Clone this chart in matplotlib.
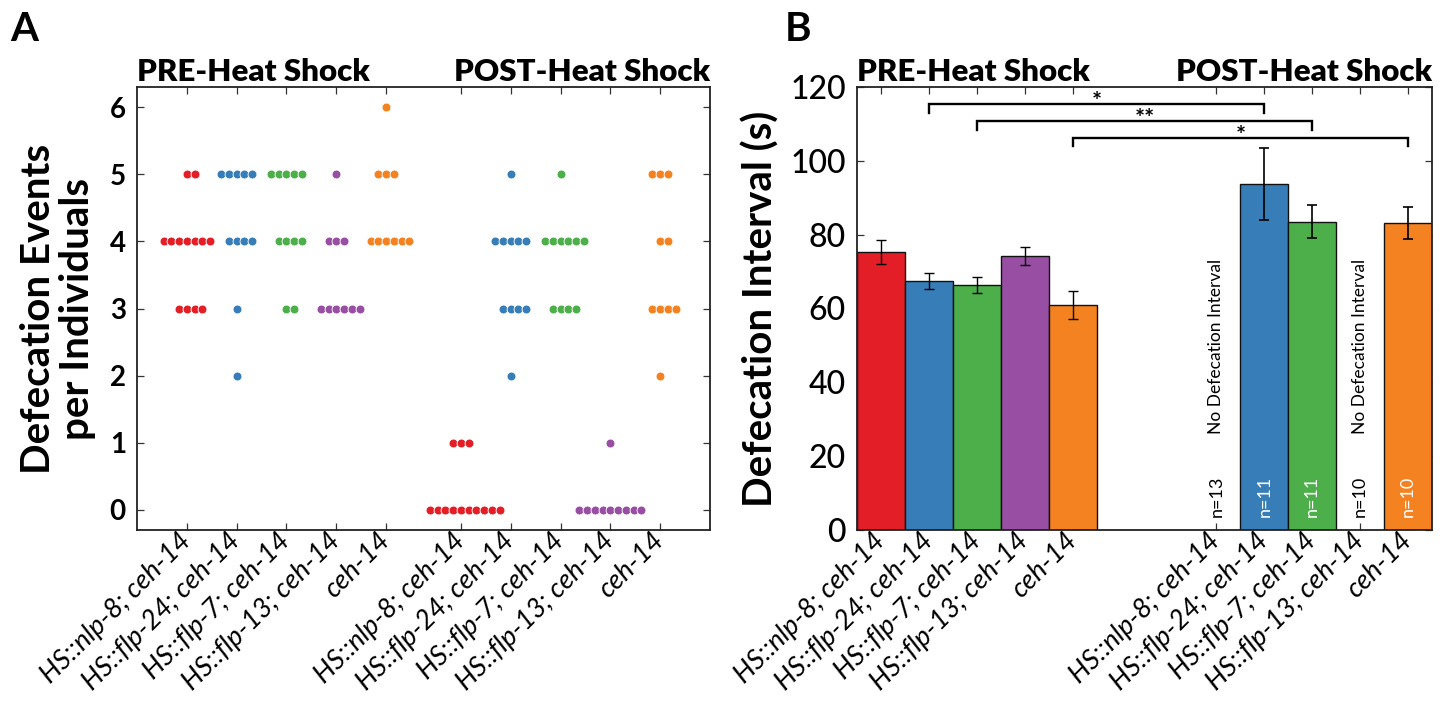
import matplotlib
matplotlib.use('Agg')
import matplotlib.pyplot as plt
import numpy as np

plt.rcParams['font.family'] = ['Lato', 'DejaVu Sans']

# ---------------- data ----------------
strains = ['HS::nlp-8; ceh-14', 'HS::flp-24; ceh-14', 'HS::flp-7; ceh-14',
           'HS::flp-13; ceh-14', 'ceh-14']
colors = ['#e41e26', '#377eb8', '#4daf4a', '#984ea3', '#f58220']

# Panel A: defecation events per individual
pre_nlp8 = [5, 5, 4, 4, 4, 4, 4, 4, 4, 3, 3, 3, 3]
pre_flp24 = [5, 5, 5, 5, 5, 4, 4, 4, 4, 3, 2]
pre_flp7 = [5, 5, 5, 5, 5, 4, 4, 4, 4, 3, 3]
pre_flp13 = [5, 4, 4, 4, 3, 3, 3, 3, 3, 3]
pre_ceh14 = [6, 5, 5, 5, 4, 4, 4, 4, 4, 4]
post_nlp8 = [1, 1, 1, 0, 0, 0, 0, 0, 0, 0, 0, 0, 0]
post_flp24 = [5, 4, 4, 4, 4, 4, 3, 3, 3, 3, 2]
post_flp7 = [5, 4, 4, 4, 4, 4, 4, 3, 3, 3, 3]
post_flp13 = [1, 0, 0, 0, 0, 0, 0, 0, 0, 0]
post_ceh14 = [5, 5, 5, 4, 4, 3, 3, 3, 3, 2]

# Panel B: defecation interval (s)
pre_mean = [75.3, 67.5, 66.4, 74.2, 61.0]
pre_err = [3.3, 2.2, 2.1, 2.35, 3.8]
post_mean = [np.nan, 93.7, 83.5, np.nan, 83.2]
post_err = [np.nan, 9.8, 4.5, np.nan, 4.3]
post_n = [13, 11, 11, 10, 10]

# significance brackets: (pre index, post index, label)
sig_pairs = [(1, 1, '*'), (2, 2, '**'), (4, 4, '*')]
sig_heights = [115.3, 110.8, 106.3]

# ---------------- figure ----------------
W, H = 1447, 704
fig = plt.figure(figsize=(W / 100, H / 100), dpi=100)
axA = fig.add_axes([137 / W, 1 - 530 / H, 573 / W, 443 / H])
axB = fig.add_axes([857 / W, 1 - 530 / H, 575 / W, 443 / H])

for ax in (axA, axB):
    for s in ax.spines.values():
        s.set_linewidth(1.3)
        s.set_color('#222222')
    ax.tick_params(direction='in', top=True, right=True, length=5, width=0.9,
                   color='#333333')

tick_font = dict(fontsize=19.5, fontstyle='italic', fontweight='normal',
                 color='black')

# ---- Panel A ----
posA_pre = [1, 2, 3, 4, 5]
posA_post = [6.5, 7.5, 8.5, 9.5, 10.5]
groupsA = [pre_nlp8, pre_flp24, pre_flp7, pre_flp13, pre_ceh14,
           post_nlp8, post_flp24, post_flp7, post_flp13, post_ceh14]
posA = posA_pre + posA_post
colA = colors + colors
spacing = 0.156
for vals, p, c in zip(groupsA, posA, colA):
    vals = np.array(vals)
    for v in np.unique(vals):
        n = int((vals == v).sum())
        start = -((n - 1) // 2)
        xs = p + spacing * np.arange(start, start + n)
        axA.plot(xs, [v] * n, 'o', ms=6.4, color=c, mec='white', mew=0.6,
                 linestyle='none', zorder=3)

axA.set_xlim(0, 11.5)
axA.set_ylim(-0.3, 6.3)
axA.set_yticks(range(0, 7))
axA.set_xticks(posA)
axA.set_xticklabels(strains + strains, rotation=45, ha='right', va='center',
                    rotation_mode='anchor', **tick_font)
axA.tick_params(axis='x', pad=5)
axA.tick_params(axis='y', labelsize=20, pad=8)
for t in axA.get_yticklabels():
    t.set_fontweight('bold')
axA.set_ylabel('Defecation Events\nper Individuals', fontsize=29,
               fontweight='bold', labelpad=10, linespacing=1.05)
axA.text(0.0, 1.014, 'PRE-Heat Shock', transform=axA.transAxes, ha='left',
         va='baseline', fontsize=22.5, fontweight='heavy')
axA.text(1.0, 1.014, 'POST-Heat Shock', transform=axA.transAxes, ha='right',
         va='baseline', fontsize=22.5, fontweight='heavy')

# ---- Panel B ----
posB_pre = [1, 2, 3, 4, 5]
posB_post = [8, 9, 10, 11, 12]
axB.bar(posB_pre, pre_mean, width=1.0, color=colors, edgecolor='#111111',
        linewidth=1.0, zorder=2)
axB.errorbar(posB_pre, pre_mean, yerr=pre_err, fmt='none', ecolor='black',
             elinewidth=1.0, capsize=3.5, capthick=1.0, zorder=3)
axB.bar(posB_post, post_mean, width=1.0, color=colors, edgecolor='#111111',
        linewidth=1.0, zorder=2)
axB.errorbar(posB_post, post_mean, yerr=post_err, fmt='none', ecolor='black',
             elinewidth=1.2, capsize=3.5, capthick=1.2, zorder=3)

for p, m, n in zip(posB_post, post_mean, post_n):
    if np.isnan(m):
        axB.text(p, 26, 'No Defecation Interval', rotation=90, ha='center',
                 va='bottom', fontsize=12.5, color='black')
        axB.text(p, 3.5, f'n={n}', rotation=90, ha='center', va='bottom',
                 fontsize=13, color='black')
    else:
        axB.text(p, 3.5, f'n={n}', rotation=90, ha='center', va='bottom',
                 fontsize=13, color='white')

for (i, j, lab), h in zip(sig_pairs, sig_heights):
    x1, x2 = posB_pre[i], posB_post[j]
    axB.plot([x1, x1, x2, x2], [h - 2.4, h, h, h - 2.4], color='black',
             lw=1.7, solid_joinstyle='miter', zorder=4)
    axB.text((x1 + x2) / 2, h + 0.4, lab, ha='center', va='center',
             fontsize=17, fontweight='bold')

axB.set_xlim(0.5, 12.5)
axB.set_ylim(0, 120)
axB.set_yticks(range(0, 121, 20))
axB.set_xticks(posB_pre + posB_post)
axB.set_xticklabels(strains + strains, rotation=45, ha='right', va='center',
                    rotation_mode='anchor', **tick_font)
axB.tick_params(axis='x', pad=5)
axB.tick_params(axis='y', labelsize=23, pad=8)
for t in axB.get_yticklabels():
    t.set_fontweight('medium')
axB.set_ylabel('Defecation Interval (s)', fontsize=29, fontweight='bold',
               labelpad=8)
axB.text(0.0, 1.014, 'PRE-Heat Shock', transform=axB.transAxes, ha='left',
         va='baseline', fontsize=22.5, fontweight='heavy')
axB.text(1.0, 1.014, 'POST-Heat Shock', transform=axB.transAxes, ha='right',
         va='baseline', fontsize=22.5, fontweight='heavy')

fig.text(10 / W, 1 - 41 / H, 'A', fontsize=29, fontweight='bold',
         va='baseline', ha='left')
fig.text(785 / W, 1 - 41 / H, 'B', fontsize=29, fontweight='bold',
         va='baseline', ha='left')

fig.savefig('out.png', dpi=100)
